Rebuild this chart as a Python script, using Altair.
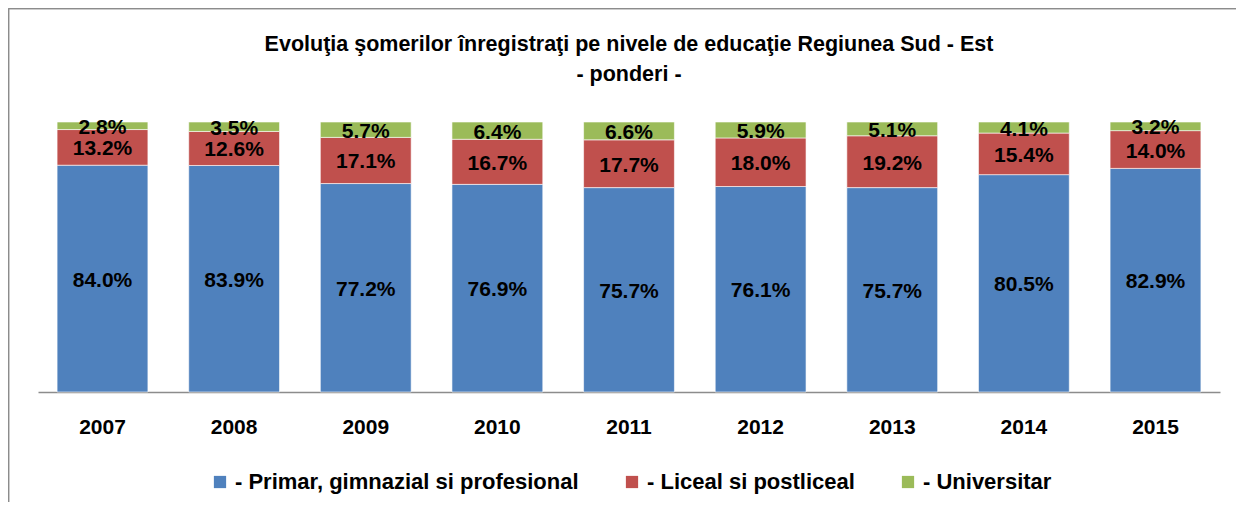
import altair as alt
import pandas as pd

years = ["2007", "2008", "2009", "2010", "2011", "2012", "2013", "2014", "2015"]
series = ["- Primar, gimnazial si profesional", "- Liceal si postliceal", "- Universitar"]
primar = [84.0, 83.9, 77.2, 76.9, 75.7, 76.1, 75.7, 80.5, 82.9]
liceal = [13.2, 12.6, 17.1, 16.7, 17.7, 18.0, 19.2, 15.4, 14.0]
univ = [2.8, 3.5, 5.7, 6.4, 6.6, 5.9, 5.1, 4.1, 3.2]
colors = ["#4F81BD", "#C0504D", "#9BBB59"]
title_lines = ["Evoluţia şomerilor înregistraţi pe nivele de educaţie Regiunea Sud - Est", "- ponderi -"]

rows = []
for i, y in enumerate(years):
    for k, vals in enumerate([primar, liceal, univ]):
        rows.append({"year": y, "series": series[k], "order": k, "value": vals[i]})
df = pd.DataFrame(rows)

FONT = "Liberation Sans, Arial, sans-serif"

base = alt.Chart(df).transform_stack(
    stack="value", groupby=["year"], as_=["y0", "y1"], offset="normalize",
    sort=[alt.SortField("order", order="ascending")]
).transform_calculate(
    mid="(datum.y0 + datum.y1) / 2",
    label="format(datum.value, '.1f') + '%'"
)

x_enc = alt.X("year:N", sort=years, title=None,
              scale=alt.Scale(paddingInner=0.31, paddingOuter=0.145),
              axis=alt.Axis(labelAngle=0, ticks=False, domainColor="#8c8c8c", domainWidth=1.5,
                            labelFont=FONT, labelFontSize=21, labelFontWeight="bold",
                            labelColor="#000000", labelPadding=24))
y_scale = alt.Scale(domain=[0, 1], nice=False, zero=True)

bars = base.mark_bar(stroke="white", strokeWidth=0.6).encode(
    x=x_enc,
    y=alt.Y("y0:Q", scale=y_scale, axis=None),
    y2="y1:Q",
    color=alt.Color("series:N", sort=series,
                    scale=alt.Scale(domain=series, range=colors),
                    legend=alt.Legend(title=None, orient="none", direction="horizontal",
                                      legendX=171, legendY=349, padding=0,
                                      symbolType="square", symbolSize=150, symbolStrokeWidth=0,
                                      labelFont=FONT, labelFontSize=22, labelFontWeight="bold",
                                      labelColor="#000000", labelOffset=4, columnPadding=42,
                                      labelLimit=500)),
)

texts = base.mark_text(font=FONT, fontSize=21, fontWeight="bold", color="#000000", dy=2).encode(
    x=alt.X("year:N", sort=years),
    y=alt.Y("mid:Q", scale=y_scale),
    text="label:N",
)

tdf = pd.DataFrame({"t": title_lines, "line": [0, 1]})
title1 = alt.Chart(tdf).transform_filter("datum.line == 0").mark_text(
    font=FONT, fontSize=21.5, fontWeight="bold", color="#000000", baseline="middle", align="center"
).encode(x=alt.value(591), y=alt.value(-77), text="t:N")
title2 = alt.Chart(tdf).transform_filter("datum.line == 1").mark_text(
    font=FONT, fontSize=21.5, fontWeight="bold", color="#000000", baseline="middle", align="center"
).encode(x=alt.value(591), y=alt.value(-47), text="t:N")

frame_left = alt.Chart(tdf).mark_rule(color="#8c8c8c", strokeWidth=1.5).encode(
    x=alt.value(-29.5), x2=alt.value(-29.5), y=alt.value(-113.5), y2=alt.value(420))
frame_top = alt.Chart(tdf).mark_rule(color="#8c8c8c", strokeWidth=1.5).encode(
    x=alt.value(-29.5), x2=alt.value(1250), y=alt.value(-113.5), y2=alt.value(-113.5))

chart = alt.layer(frame_left, frame_top, title1, title2, bars, texts).properties(
    width=1182, height=270,
    autosize=alt.AutoSizeParams(type="none"),
    padding={"left": 30, "top": 114, "right": 16, "bottom": 110},
).resolve_scale(x="shared").configure_view(stroke=None)

chart.save("out.html", embed_options={"renderer": "svg", "actions": False})
